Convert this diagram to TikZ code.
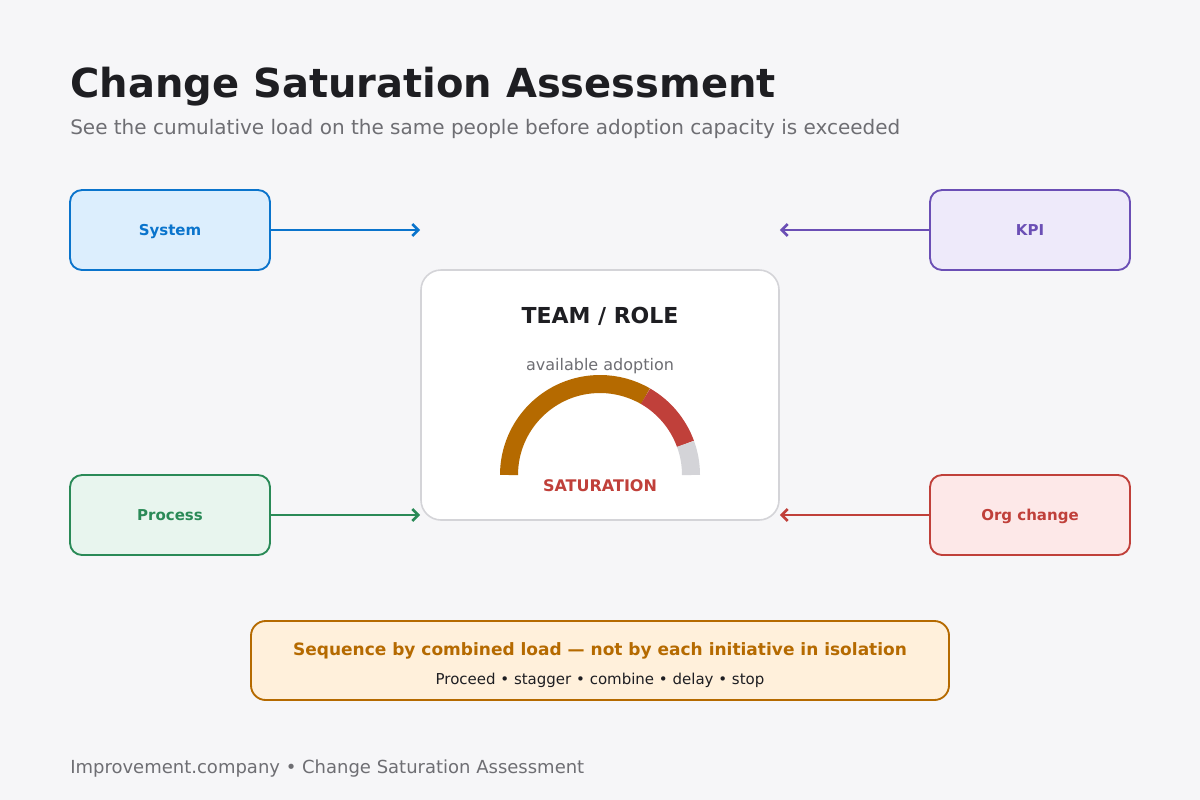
\documentclass[tikz,border=0pt]{standalone}
\usepackage{fontspec}
\setmainfont{DejaVu Sans}
\usetikzlibrary{arrows.meta}

\definecolor{bg}{HTML}{F6F6F8}
\definecolor{ink}{HTML}{1E1E22}
\definecolor{muted}{HTML}{6E6E73}
\definecolor{sysline}{HTML}{0A74CC}
\definecolor{sysfill}{HTML}{DCEEFD}
\definecolor{kpiline}{HTML}{6B4FB5}
\definecolor{kpifill}{HTML}{EEEAFA}
\definecolor{procline}{HTML}{2A8A57}
\definecolor{procfill}{HTML}{E8F5EE}
\definecolor{orgline}{HTML}{C0403A}
\definecolor{orgfill}{HTML}{FDE8E8}
\definecolor{loadline}{HTML}{B56A00}
\definecolor{loadfill}{HTML}{FFF0DB}
\definecolor{spare}{HTML}{D4D4D8}

\begin{document}
\begin{tikzpicture}[x = 0.75pt, y = -0.75pt, > = {Straight Barb[length = 4.5pt, width = 9pt]},
	source/.style = {draw, line width = 1.4pt, rounded corners = 9pt, minimum width = 150pt, minimum height = 60pt, text depth = 0pt, font = \bfseries\fontsize{11.25}{13}\selectfont},
	feed/.style = {->, line width = 2pt}]

	% Page
	
	\fill [bg] (0, 0) rectangle (1200, 800);
	\useasboundingbox (0, 0) rectangle (1200, 800);
	
	\node (title) [anchor = base west, text = ink, font = \bfseries\fontsize{30}{36}\selectfont, inner sep = 0] at (70, 97) {Change Saturation Assessment};
	\node (subtitle) [anchor = base west, text = muted, font = \fontsize{15}{18}\selectfont, inner sep = 0] at (70, 134) {See the cumulative load on the same people before adoption capacity is exceeded};

	% Team card
	
	\node (team) [draw = spare, fill = white, line width = 1.2pt, rounded corners = 15pt, minimum width = 268.5pt, minimum height = 187.5pt] at (600, 395) {};
	\node (role) [text = ink, font = \bfseries\fontsize{16.5}{20}\selectfont] at (600, 316) {TEAM / ROLE};
	\node (avail) [text = muted, font = \fontsize{12}{14}\selectfont] at (600, 366) {available adoption};
	
	\begin{scope}[shift = {(600, 475)}, y = 0.75pt, line width = 13.5pt]
		\draw [loadline] (180:91) arc [start angle = 180, end angle = 60, radius = 91];
		\draw [orgline] (60:91) arc [start angle = 60, end angle = 20, radius = 91];
		\draw [spare] (20:91) arc [start angle = 20, end angle = 0, radius = 91];
	\end{scope}
	
	\node (sat) [text = orgline, font = \bfseries\fontsize{12}{14}\selectfont] at (600, 486) {SATURATION};

	% Sources
	
	\node (system) [source, draw = sysline, fill = sysfill, text = sysline] at (170, 230) {System};
	\node (kpi) [source, draw = kpiline, fill = kpifill, text = kpiline] at (1030, 230) {KPI};
	\node (process) [source, draw = procline, fill = procfill, text = procline] at (170, 515) {Process};
	\node (org) [source, draw = orgline, fill = orgfill, text = orgline] at (1030, 515) {Org change};
	
	\draw [feed, sysline] (system.east) -- (system.east -| team.west);
	\draw [feed, kpiline] (kpi.west) -- (kpi.west -| team.east);
	\draw [feed, procline] (process.east) -- (process.east -| team.west);
	\draw [feed, orgline] (org.west) -- (org.west -| team.east);

	% Rule
	
	\node (rule) [draw = loadline, fill = loadfill, line width = 1.4pt, rounded corners = 11pt, minimum width = 523.5pt, minimum height = 59.25pt] at (600, 660.5) {};
	\node (ruletop) [text = loadline, font = \bfseries\fontsize{12.75}{15}\selectfont] at (600, 651) {Sequence by combined load — not by each initiative in isolation};
	\node (rulelow) [text = ink, font = \fontsize{11.25}{13}\selectfont] at (600, 680) {Proceed • stagger • combine • delay • stop};
	
	\node (footer) [anchor = base west, text = muted, font = \fontsize{13.5}{16}\selectfont, inner sep = 0] at (70, 773) {Improvement.company • Change Saturation Assessment};

\end{tikzpicture}
\end{document}
